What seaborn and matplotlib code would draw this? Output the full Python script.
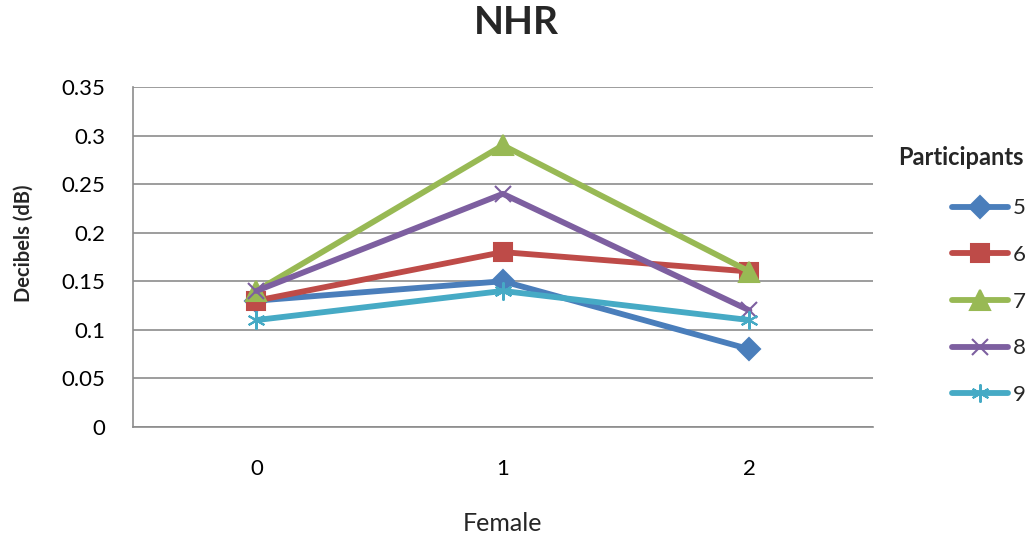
import pandas as pd
import matplotlib.pyplot as plt
import seaborn as sns

sns.set_theme(style="white")
plt.rcParams['font.family'] = ['Lato', 'DejaVu Sans']

# values
female = [0, 1, 2]
participants = ["5", "6", "7", "8", "9"]
p5 = [0.13, 0.15, 0.08]
p6 = [0.13, 0.18, 0.16]
p7 = [0.14, 0.29, 0.16]
p8 = [0.14, 0.24, 0.12]
p9 = [0.11, 0.14, 0.11]

colors = ["#4A7EBB", "#BE4B48", "#98B954", "#7D5FA0", "#46AAC5"]
markers = ["D", "s", "^", "x", (6, 2, 0)]
sizes = [11, 13, 14, 12, 13]

rows = []
for name, vals in zip(participants, [p5, p6, p7, p8, p9]):
    for x, v in zip(female, vals):
        rows.append({"Female": x, "dB": v, "Participants": name})
df = pd.DataFrame(rows)

fig = plt.figure(figsize=(10.33, 5.37), dpi=100)
ax = fig.add_axes([0.1288, 0.205, 0.716, 0.633])

for name, c, m, s in zip(participants, colors, markers, sizes):
    sub = df[df["Participants"] == name]
    sns.lineplot(data=sub, x="Female", y="dB", ax=ax, color=c, linewidth=4.2,
                 marker=m, markersize=s, markeredgecolor=c,
                 markeredgewidth=1.5, label=name)

ax.set_xlim(-0.5, 2.5)
ax.set_ylim(0, 0.35)
ax.set_yticks([0, 0.05, 0.1, 0.15, 0.2, 0.25, 0.3, 0.35])
ax.set_yticklabels(["0", "0.05", "0.1", "0.15", "0.2", "0.25", "0.3", "0.35"])
ax.set_xticks(female)
ax.set_xticklabels([str(x) for x in female])
ax.tick_params(axis="both", labelsize=16, length=0, colors="black")
ax.tick_params(axis="y", pad=20)
ax.tick_params(axis="x", pad=23)
ax.yaxis.grid(True, color="#8C8C8C", linewidth=1.2)
ax.set_axisbelow(True)
for side in ["top", "right"]:
    ax.spines[side].set_visible(False)
for side in ["left", "bottom"]:
    ax.spines[side].set_color("#8C8C8C")
    ax.spines[side].set_linewidth(1.2)

ax.set_xlabel("Female", fontsize=18)
ax.xaxis.set_label_coords(0.5, -0.25)
ax.set_ylabel("Decibels (dB)", fontsize=14.5, fontweight="bold")
ax.yaxis.set_label_coords(-0.135, 0.541)
fig.suptitle("NHR", fontsize=28, fontweight="bold", y=0.99)

# legend title drawn separately so the entries can sit flush right
fig.text(961 / 1033, 1 - 157 / 537, "Participants", fontsize=17, fontweight="bold",
         ha="center", va="center")
leg = ax.legend(loc="upper right", bbox_to_anchor=(1.012, 0.668), bbox_transform=fig.transFigure,
                frameon=False, fontsize=16,
                handlelength=2.5, labelspacing=1.2, handletextpad=0.2)

fig.savefig("out.png", dpi=100)
